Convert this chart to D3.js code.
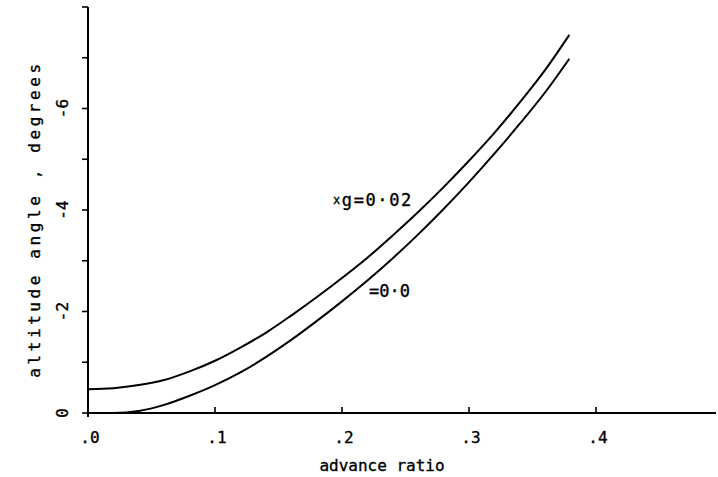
<!DOCTYPE html>
<html>
<head>
<meta charset="utf-8">
<script src="https://cdn.jsdelivr.net/npm/d3@7"></script>
<style>
  html, body { margin: 0; padding: 0; background: #fff; }
  svg text { font-family: "DejaVu Sans Mono", monospace; fill: #000; stroke: #000; stroke-width: 0.35px; }
</style>
</head>
<body>
<svg id="chart" width="718" height="477"></svg>
<script>
// advance ratio (mu) samples
const advanceRatio = [0.00, 0.02, 0.04, 0.06, 0.08, 0.10, 0.12, 0.14, 0.16, 0.18, 0.20,
                      0.22, 0.24, 0.26, 0.28, 0.30, 0.32, 0.34, 0.36, 0.379];
// attitude angle magnitude (degrees, nose-down) for x_g = 0.02
const attitudeXg002 = [0.47, 0.49, 0.55, 0.65, 0.82, 1.03, 1.29, 1.58, 1.92, 2.28, 2.66,
                       3.06, 3.50, 3.96, 4.45, 4.97, 5.52, 6.12, 6.76, 7.45];
// attitude angle magnitude for x_g = 0.0
const attitudeXg000 = [0.00, 0.00, 0.04, 0.16, 0.34, 0.55, 0.80, 1.10, 1.44, 1.81, 2.20,
                       2.61, 3.05, 3.52, 4.02, 4.55, 5.11, 5.70, 6.32, 6.98];

const xTickValues = [0, 0.1, 0.2, 0.3, 0.4];
const xTickLabels = [".0", ".1", ".2", ".3", ".4"];
const yTickValues = [0, 2, 4, 6];
const yTickLabels = ["0", "-2", "-4", "-6"];
const yMinorTicks = [0, 1, 2, 3, 4, 5, 6, 7, 8];

const svg = d3.select("#chart");

const x = d3.scaleLinear().domain([0, 0.5]).range([88, 723]);
const y = d3.scaleLinear().domain([0, 8]).range([413, 7]);

// axes
const axisG = svg.append("g").attr("stroke", "#000").attr("fill", "none");
axisG.append("line")
  .attr("x1", x(0)).attr("x2", 716)
  .attr("y1", y(0)).attr("y2", y(0))
  .attr("stroke-width", 2);
axisG.append("line")
  .attr("x1", x(0)).attr("x2", x(0))
  .attr("y1", y(0) + 4).attr("y2", y(8))
  .attr("stroke-width", 2);

// x ticks (pointing up into the plot)
axisG.selectAll(".xt").data(xTickValues).enter().append("line")
  .attr("x1", d => x(d)).attr("x2", d => x(d))
  .attr("y1", y(0)).attr("y2", y(0) - 6)
  .attr("stroke-width", 1.6);

// y ticks (every degree, pointing outward)
axisG.selectAll(".yt").data(yMinorTicks).enter().append("line")
  .attr("x1", x(0) - 6).attr("x2", x(0))
  .attr("y1", d => y(d)).attr("y2", d => y(d))
  .attr("stroke-width", 1.6);

// x tick labels
svg.selectAll(".xl").data(xTickValues).enter().append("text")
  .attr("x", d => x(d) + 2).attr("y", 443)
  .attr("text-anchor", "middle")
  .attr("font-size", 16)
  .text((d, i) => xTickLabels[i]);

// y tick labels (rotated)
svg.selectAll(".yl").data(yTickValues).enter().append("text")
  .attr("transform", d => `translate(68,${y(d)}) rotate(-90)`)
  .attr("text-anchor", "middle")
  .attr("font-size", 16)
  .text((d, i) => yTickLabels[i]);

// axis titles
svg.append("text")
  .attr("x", 382).attr("y", 471)
  .attr("text-anchor", "middle")
  .attr("font-size", 16)
  .text("advance ratio");

svg.append("text")
  .attr("transform", "translate(40,219) rotate(-90)")
  .attr("text-anchor", "middle")
  .attr("font-size", 16)
  .attr("letter-spacing", 3.6)
  .text("altitude angle , degrees");

// curves
const line = d3.line()
  .x(d => x(d[0]))
  .y(d => y(d[1]))
  .curve(d3.curveMonotoneX);

const series = [attitudeXg002, attitudeXg000];
svg.selectAll(".curve").data(series).enter().append("path")
  .attr("d", s => line(advanceRatio.map((m, i) => [m, s[i]])))
  .attr("fill", "none")
  .attr("stroke", "#000")
  .attr("stroke-width", 2);

// curve labels
const lab1 = svg.append("text")
  .attr("x", 333).attr("y", 206)
  .attr("font-size", 17)
  .attr("letter-spacing", 1.6);
lab1.append("tspan").attr("font-size", 12).attr("dy", -2).text("x");
lab1.append("tspan").attr("dy", 2).text("g=0·02");

svg.append("text")
  .attr("x", 369).attr("y", 297)
  .attr("font-size", 17)
  .text("=0·0");
</script>
</body>
</html>
